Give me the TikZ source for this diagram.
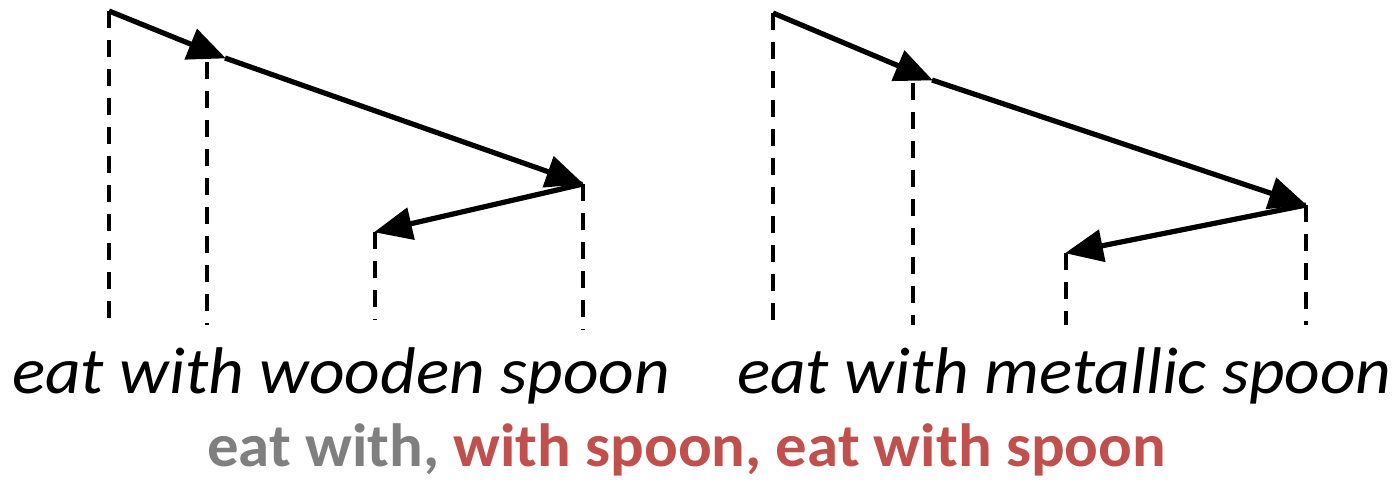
\documentclass[tikz,border=0pt]{standalone}
\usepackage{fontspec}
\setmainfont{Carlito}
\usetikzlibrary{arrows.meta}
\definecolor{grayt}{HTML}{7F7F7F}
\definecolor{redt}{HTML}{C0504D}
\tikzset{
  dep/.style={line width=5.2pt, -{Triangle[length=38pt,width=32pt]}, shorten >=-1pt},
  proj/.style={line width=4.8pt, dash pattern=on 17pt off 12pt},
  word/.style={anchor=base west, inner sep=0pt, xscale=1.05, transform shape, font=\fontsize{66}{66}\selectfont\itshape},
}
\begin{document}
\begin{tikzpicture}[x=1pt,y=-1pt]
\useasboundingbox (0,0) rectangle (1395,482);
% left tree
\coordinate (eA) at (109,11);
\coordinate (wA) at (225,58);
\coordinate (wAd) at (207,62);
\coordinate (sA) at (583,184);
\coordinate (oA) at (375,232);
\coordinate (eAb) at (109,325);
\coordinate (wAb) at (207,325);
\coordinate (sAb) at (583,330);
\coordinate (oAb) at (375,320);
\draw[dep] (eA) -- (wA);
\draw[dep] (wA) -- (sA);
\draw[dep] (sA) -- (oA);
\draw[proj] (eA) -- (eAb);
\draw[proj] (wAd) -- (wAb);
\draw[proj] (sA) -- (sAb);
\draw[proj] (oA) -- (oAb);
% right tree
\coordinate (eB) at (773,13);
\coordinate (wB) at (932,80);
\coordinate (wBd) at (913,83);
\coordinate (sB) at (1306,205);
\coordinate (mB) at (1066,253);
\coordinate (eBb) at (773,325);
\coordinate (wBb) at (913,325);
\coordinate (sBb) at (1306,325);
\coordinate (mBb) at (1066,325);
\draw[dep] (eB) -- (wB);
\draw[dep] (wB) -- (sB);
\draw[dep] (sB) -- (mB);
\draw[proj] (eB) -- (eBb);
\draw[proj] (wBd) -- (wBb);
\draw[proj] (sB) -- (sBb);
\draw[proj] (mB) -- (mBb);
% sentences
\node[word] (tA) at (12,393) {eat with wooden spoon};
\node[word] (tB) at (737,393) {eat with metallic spoon};
\node[anchor=base west, inner sep=0pt, xscale=1.03, transform shape, font=\fontsize{61}{61}\selectfont\bfseries] (bot) at (207,466)
  {\textcolor{grayt}{eat with,} \textcolor{redt}{with spoon, eat with spoon}};
\end{tikzpicture}
\end{document}
